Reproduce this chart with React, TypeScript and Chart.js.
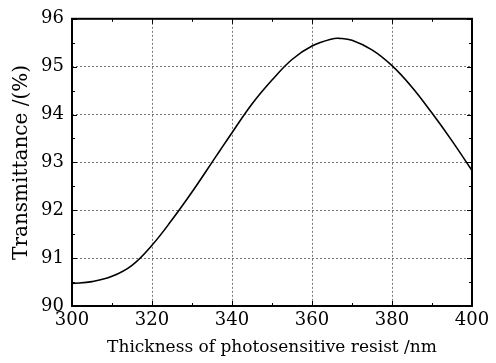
import React, { useEffect, useRef } from "react";
import { Chart, registerables } from "chart.js";

Chart.register(...registerables);

const thickness = [300, 305, 310, 315, 320, 325, 330, 335, 337, 340, 345, 350, 355, 360, 365, 367, 370, 375, 380, 385, 390, 395, 400];
const transmittance = [90.47, 90.51, 90.62, 90.85, 91.27, 91.8, 92.38, 93.0, 93.25, 93.62, 94.22, 94.72, 95.15, 95.43, 95.58, 95.59, 95.55, 95.35, 95.02, 94.57, 94.03, 93.45, 92.83];
const xTicks = [300, 320, 340, 360, 380, 400];
const yTicks = [90, 91, 92, 93, 94, 95, 96];
const xTitle = "Thickness of photosensitive resist /nm";
const yTitle = "Transmittance /(%)";

const FONT = "'DejaVu Serif', 'Liberation Serif', serif";

const framePlugin = {
  id: "frame",
  afterDraw(chart: any) {
    const { ctx, chartArea: a, scales } = chart;
    ctx.save();
    ctx.strokeStyle = "#000";
    ctx.lineWidth = 2;
    ctx.strokeRect(a.left, a.top, a.right - a.left, a.bottom - a.top);
    ctx.lineWidth = 1;
    const xs = scales.x;
    const ys = scales.y;
    for (let v = 300; v <= 400; v += 10) {
      const px = Math.round(xs.getPixelForValue(v)) + 0.5;
      const len = v % 20 === 0 ? 5 : 3;
      ctx.beginPath();
      ctx.moveTo(px, a.bottom);
      ctx.lineTo(px, a.bottom - len);
      ctx.moveTo(px, a.top);
      ctx.lineTo(px, a.top + len);
      ctx.stroke();
    }
    for (let v = 90; v <= 96.001; v += 0.5) {
      const py = Math.round(ys.getPixelForValue(v)) + 0.5;
      const len = Math.abs(v - Math.round(v)) < 0.01 ? 5 : 3;
      ctx.beginPath();
      ctx.moveTo(a.left, py);
      ctx.lineTo(a.left + len, py);
      ctx.moveTo(a.right, py);
      ctx.lineTo(a.right - len, py);
      ctx.stroke();
    }
    ctx.restore();
  },
};

export default function App() {
  const ref = useRef<HTMLCanvasElement>(null);
  useEffect(() => {
    document.body.style.margin = "0";
    const chart = new Chart(ref.current!, {
      type: "line",
      data: {
        datasets: [
          {
            data: thickness.map((x, i) => ({ x, y: transmittance[i] })),
            borderColor: "#000",
            borderWidth: 1.6,
            pointRadius: 0,
            tension: 0.4,
            fill: false,
          },
        ],
      },
      options: {
        animation: false,
        responsive: false,
        maintainAspectRatio: false,
        layout: { padding: { left: 0, top: 18, right: 24, bottom: 0 } },
        plugins: { legend: { display: false }, tooltip: { enabled: false } },
        scales: {
          x: {
            type: "linear",
            min: 300,
            max: 400,
            afterBuildTicks: (s: any) => {
              s.ticks = xTicks.map((v) => ({ value: v }));
            },
            afterFit: (s: any) => {
              s.height = 57;
            },
            grid: { color: "#777", lineWidth: 1, drawTicks: false },
            border: { display: false, dash: [2, 2] },
            ticks: {
              color: "#000",
              font: { family: FONT, size: 18 },
              padding: 4,
              maxRotation: 0,
            },
            title: {
              display: true,
              text: xTitle,
              color: "#000",
              font: { family: FONT, size: 17 },
              padding: { top: 0, bottom: 5 },
            },
          },
          y: {
            min: 90,
            max: 96,
            afterBuildTicks: (s: any) => {
              s.ticks = yTicks.map((v) => ({ value: v }));
            },
            afterFit: (s: any) => {
              s.width = 72;
            },
            grid: { color: "#777", lineWidth: 1, drawTicks: false },
            border: { display: false, dash: [2, 2] },
            ticks: {
              color: "#000",
              font: { family: FONT, size: 18 },
              padding: 8,
            },
            title: {
              display: true,
              text: yTitle,
              color: "#000",
              font: { family: FONT, size: 20 },
              padding: { top: 10, bottom: 0 },
            },
          },
        },
      },
      plugins: [framePlugin],
    } as any);
    return () => chart.destroy();
  }, []);
  return (
    <div style={{ width: 496, height: 363, background: "#fff" }}>
      <canvas ref={ref} width={496} height={363} style={{ width: 496, height: 363 }} />
    </div>
  );
}
